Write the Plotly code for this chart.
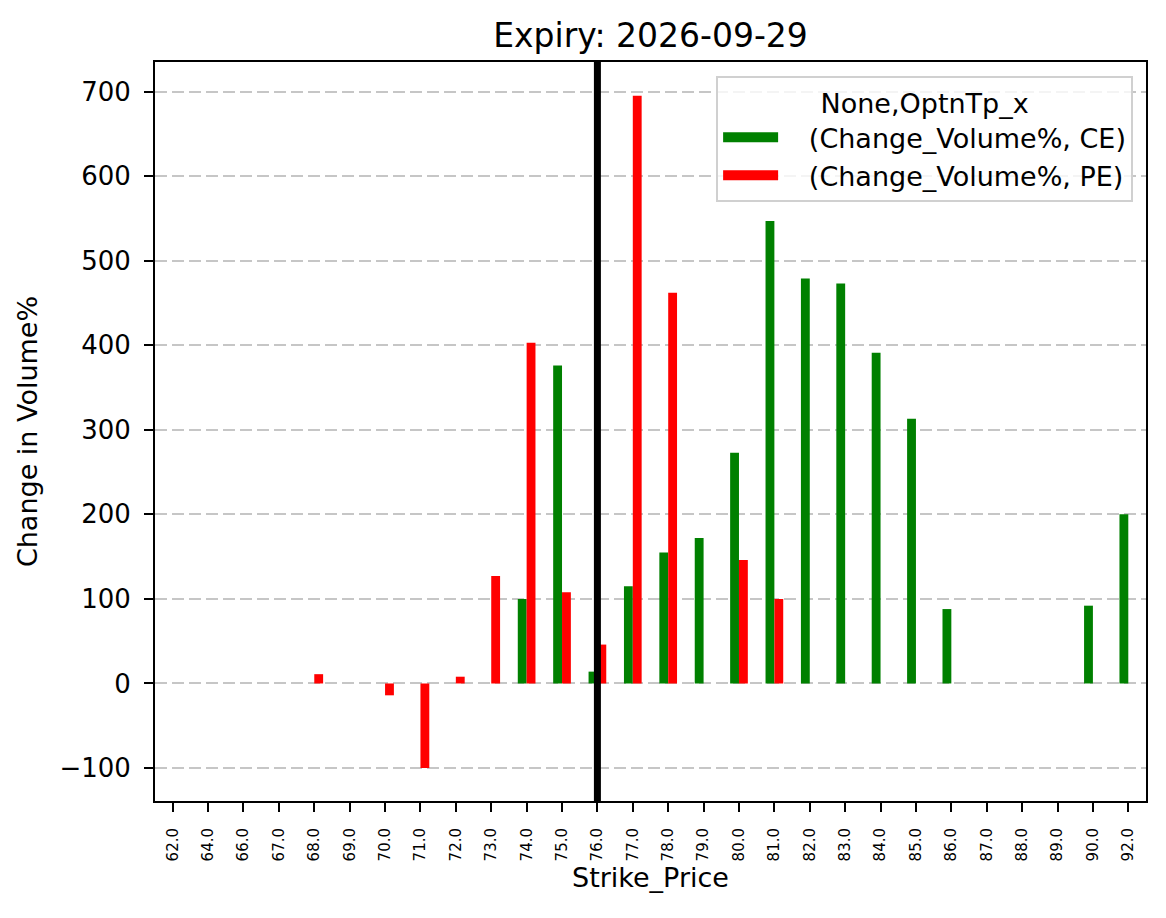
import plotly.graph_objects as go

# strike prices and % change in volume
strikes = ["62.0", "64.0", "66.0", "67.0", "68.0", "69.0", "70.0", "71.0", "72.0", "73.0",
           "74.0", "75.0", "76.0", "77.0", "78.0", "79.0", "80.0", "81.0", "82.0", "83.0",
           "84.0", "85.0", "86.0", "87.0", "88.0", "89.0", "90.0", "92.0"]
ce_change = [0, 0, 0, 0, 0, 0, 0, 0, 0, 0,
             100, 376, 14, 115, 155, 172, 273, 547, 479, 473,
             391, 313, 88, 0, 0, 0, 92, 200]
pe_change = [0, 0, 0, 0, 11, 0, -14, -100, 8, 127,
             403, 108, 46, 695, 462, 0, 146, 100, 0, 0,
             0, 0, 0, 0, 0, 0, 0, 0]
series_names = ["(Change_Volume%, CE)", "(Change_Volume%, PE)"]
series_colors = ["green", "red"]
spot_strike = "76.0"
expiry = "2026-09-29"

fig = go.Figure()
for vals, name, col in zip([ce_change, pe_change], series_names, series_colors):
    fig.add_trace(go.Bar(x=strikes, y=vals, name=name, marker_color=col,
                         marker_line_width=0, showlegend=False))
    # legend entry drawn as a wide patch, like matplotlib (leading spaces = handle/text gap)
    fig.add_trace(go.Scatter(x=[None], y=[None], mode="lines", name="\u00a0\u00a0\u00a0" + name,
                             line=dict(color=col, width=18)))

# spot marker line
spot_idx = strikes.index(spot_strike)
fig.add_shape(type="line", xref="x", yref="paper", x0=spot_idx, x1=spot_idx, y0=0, y1=1,
              line=dict(color="black", width=7), opacity=1, layer="above")

fig.update_layout(
    width=1166, height=918,
    font=dict(family="DejaVu Sans", size=27, color="black"),
    title=dict(text="Expiry: " + expiry, x=0.5, xref="paper", xanchor="center",
               y=0.9706, yanchor="middle", font=dict(size=33)),
    barmode="group", bargap=0.5, bargroupgap=0,
    margin=dict(l=147, r=28, t=54, b=125),
    legend=dict(
        title=dict(text="None,OptnTp_x", side="top center", font=dict(size=27)),
        x=0.987, xanchor="right", y=0.981, yanchor="top",
        bgcolor="rgba(255,255,255,0.8)", bordercolor="#d0d0d0", borderwidth=2,
        font=dict(size=27), itemwidth=55,
    ),
    plot_bgcolor="white", paper_bgcolor="white",
)
fig.update_xaxes(
    type="category", range=[-0.5, len(strikes) - 0.5],
    title=dict(text="Strike_Price", font=dict(size=27), standoff=8),
    tickangle=-90, tickfont=dict(size=15),
    showline=True, mirror=True, linecolor="black", linewidth=2,
    ticks="outside", ticklen=9, tickwidth=2, tickcolor="black", ticklabelstandoff=10,
    showgrid=False, zeroline=False,
)
fig.update_yaxes(
    range=[-139, 735], tickvals=[-100, 0, 100, 200, 300, 400, 500, 600, 700],
    ticktext=["\u2212100", "0", "100", "200", "300", "400", "500", "600", "700"],
    tickfont=dict(size=26),
    title=dict(text="Change in Volume%", font=dict(size=27), standoff=14),
    showline=True, mirror=True, linecolor="black", linewidth=2,
    ticks="outside", ticklen=9, tickwidth=2, tickcolor="black", ticklabelstandoff=8,
    zeroline=False,
    showgrid=True, gridcolor="#c6c6c6", griddash="12px,5px", gridwidth=2,
)

fig.write_html("out.html")
